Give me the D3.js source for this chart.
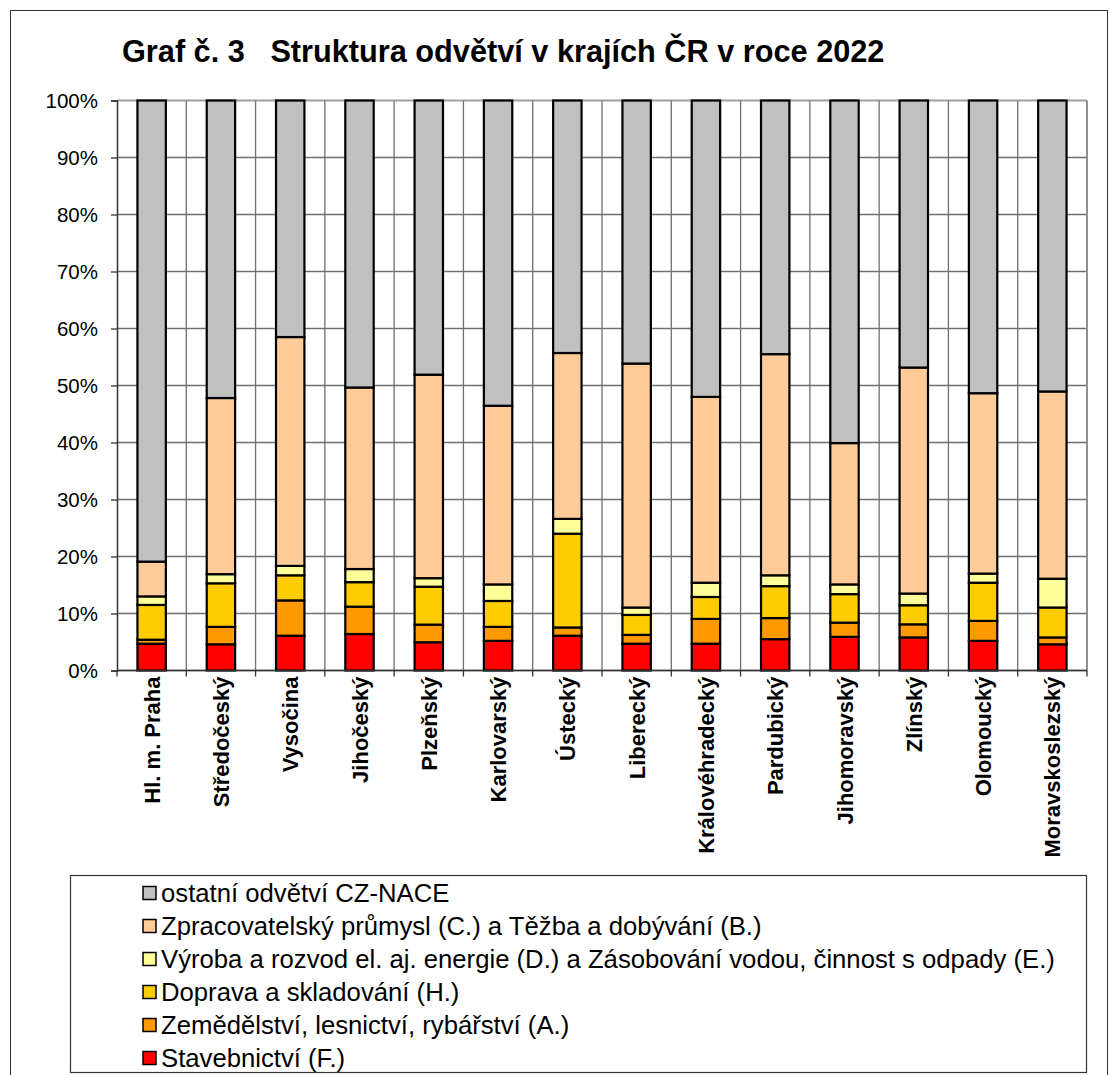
<!DOCTYPE html>
<html>
<head>
<meta charset="utf-8">
<script src="https://cdn.jsdelivr.net/npm/d3@7"></script>
<style>
  body { margin: 0; background: #fff; }
  text { font-family: 'Liberation Sans', Arial, sans-serif; }
</style>
</head>
<body>
<div id="wrapper"></div>
<script>
// 1. Data

const regions = ['Hl. m. Praha', 'Středočeský', 'Vysočina', 'Jihočeský', 'Plzeňský', 'Karlovarský', 'Ústecký',
  'Liberecký', 'Královéhradecký', 'Pardubický', 'Jihomoravský', 'Zlínský', 'Olomoucký', 'Moravskoslezský']

// shares in % (bottom to top)
const stavebnictvi = [4.7, 4.6, 6.1, 6.4, 4.95, 5.2, 6.1, 4.7, 4.7, 5.5, 5.9, 5.8, 5.2, 4.6]
const zemedelstvi = [0.7, 3.05, 6.2, 4.8, 3.1, 2.45, 1.45, 1.55, 4.35, 3.7, 2.5, 2.3, 3.5, 1.2]
const doprava = [6.1, 7.65, 4.4, 4.3, 6.65, 4.55, 16.45, 3.5, 3.85, 5.6, 5.0, 3.35, 6.7, 5.25]
const energie = [1.5, 1.6, 1.65, 2.3, 1.5, 2.9, 2.6, 1.3, 2.5, 1.9, 1.7, 2.05, 1.6, 5.05]
const prumysl = [6.1, 30.9, 40.15, 31.85, 35.7, 31.35, 29.1, 42.8, 32.6, 38.8, 24.8, 39.65, 31.65, 32.85]
const ostatni = [80.9, 52.2, 41.5, 50.35, 48.1, 53.55, 44.3, 46.15, 52.0, 44.5, 60.1, 46.85, 51.35, 51.05]

const seriesKeys = ['F', 'A', 'H', 'DE', 'CB', 'other']
const seriesNames = {
  F: 'Stavebnictví (F.)',
  A: 'Zemědělství, lesnictví, rybářství (A.)',
  H: 'Doprava a skladování (H.)',
  DE: 'Výroba a rozvod el. aj. energie (D.) a Zásobování vodou, činnost s odpady (E.)',
  CB: 'Zpracovatelský průmysl (C.) a Těžba a dobývání (B.)',
  other: 'ostatní odvětví CZ-NACE',
}
const seriesColors = {
  F: '#ff0000', A: '#ff9900', H: '#ffcc00', DE: '#ffff99', CB: '#ffcc99', other: '#c0c0c0',
}
const yTicks = [0, 10, 20, 30, 40, 50, 60, 70, 80, 90, 100]

const dataset = regions.map((r, i) => ({
  region: r,
  F: stavebnictvi[i], A: zemedelstvi[i], H: doprava[i],
  DE: energie[i], CB: prumysl[i], other: ostatni[i],
}))

// 2. Dimensions

let dimensions = {
  width: 1110,
  height: 1075,
  margin: { top: 100.5, left: 117, right: 23, bottom: 404.5 },
}
dimensions.boundedWidth = dimensions.width - dimensions.margin.left - dimensions.margin.right
dimensions.boundedHeight = dimensions.height - dimensions.margin.top - dimensions.margin.bottom

// 3. Canvas

const wrapper = d3.select('#wrapper').append('svg')
  .attr('width', dimensions.width)
  .attr('height', dimensions.height)

wrapper.append('rect')
  .attr('x', 10.5).attr('y', 10.5)
  .attr('width', 1097).attr('height', 1100)
  .attr('fill', 'none').attr('stroke', '#333').attr('stroke-width', 1)

wrapper.append('text')
  .attr('x', 122).attr('y', 62)
  .attr('font-size', 30.7).attr('font-weight', 'bold')
  .style('white-space', 'pre')
  .text('Graf č. 3   Struktura odvětví v krajích ČR v roce 2022')

const bounds = wrapper.append('g')
  .attr('transform', `translate(${dimensions.margin.left}, ${dimensions.margin.top})`)

// 4. Scales

const xScale = d3.scaleBand()
  .domain(regions)
  .range([0, dimensions.boundedWidth])

const yScale = d3.scaleLinear()
  .domain([0, 100])
  .range([dimensions.boundedHeight, 0])

const stack = d3.stack().keys(seriesKeys)
const stacked = stack(dataset)

// 5. Gridlines

bounds.append('g')
  .selectAll('line')
  .data(yTicks)
  .join('line')
  .attr('x1', 0).attr('x2', dimensions.boundedWidth)
  .attr('y1', (d) => yScale(d)).attr('y2', (d) => yScale(d))
  .attr('stroke', (d) => (d === 100 ? '#a0a0a0' : '#707070'))
  .attr('stroke-width', (d) => (d === 100 ? 2 : 1.3))

bounds.append('g')
  .selectAll('line')
  .data(regions.slice(1))
  .join('line')
  .attr('x1', (d) => xScale(d)).attr('x2', (d) => xScale(d))
  .attr('y1', 0).attr('y2', dimensions.boundedHeight)
  .attr('stroke', '#707070').attr('stroke-width', 1.3)

bounds.append('line')
  .attr('x1', dimensions.boundedWidth).attr('x2', dimensions.boundedWidth)
  .attr('y1', 0).attr('y2', dimensions.boundedHeight)
  .attr('stroke', '#909090').attr('stroke-width', 2)

// 6. Bars

const barWidth = xScale.bandwidth() * 0.41

bounds.append('g')
  .selectAll('g')
  .data(stacked)
  .join('g')
  .attr('fill', (s) => seriesColors[s.key])
  .selectAll('rect')
  .data((s) => s)
  .join('rect')
  .attr('x', (d) => xScale(d.data.region) + (xScale.bandwidth() - barWidth) / 2)
  .attr('y', (d) => yScale(d[1]))
  .attr('width', barWidth)
  .attr('height', (d) => yScale(d[0]) - yScale(d[1]))
  .attr('stroke', '#000')
  .attr('stroke-width', 2.2)

// 7. Axes

const yAxisGenerator = d3.axisLeft(yScale)
  .tickValues(yTicks)
  .tickSize(6)
  .tickPadding(13)
  .tickFormat((d) => d + '%')

const yAxis = bounds.append('g').call(yAxisGenerator)
yAxis.select('.domain').attr('stroke', '#333').attr('stroke-width', 1.5)
yAxis.selectAll('.tick line').attr('stroke', '#333').attr('stroke-width', 1.3)
yAxis.selectAll('.tick text')
  .attr('font-size', 20.5)
  .attr('font-family', "'Liberation Sans', Arial, sans-serif")
  .attr('fill', '#000')

const xAxis = bounds.append('g')
  .attr('transform', `translate(0, ${dimensions.boundedHeight})`)

xAxis.append('line')
  .attr('x1', 0).attr('x2', dimensions.boundedWidth)
  .attr('stroke', '#333').attr('stroke-width', 1.5)

xAxis.selectAll('.xtick')
  .data(regions.concat(['end']))
  .join('line')
  .attr('class', 'xtick')
  .attr('x1', (d, i) => i * xScale.step()).attr('x2', (d, i) => i * xScale.step())
  .attr('y1', 0).attr('y2', 6)
  .attr('stroke', '#333').attr('stroke-width', 1.3)

xAxis.selectAll('.xlabel')
  .data(regions)
  .join('text')
  .attr('class', 'xlabel')
  .attr('transform', (d) => `translate(${xScale(d) + xScale.bandwidth() / 2 + 8}, 6) rotate(-90)`)
  .attr('text-anchor', 'end')
  .attr('font-size', 22)
  .attr('font-weight', 'bold')
  .text((d) => d)

// 8. Legend

const legend = wrapper.append('g')

legend.append('rect')
  .attr('x', 70.5).attr('y', 875.5)
  .attr('width', 1016).attr('height', 197)
  .attr('fill', '#fff').attr('stroke', '#333').attr('stroke-width', 1.2)

const legendKeys = seriesKeys.slice().reverse()

const items = legend.selectAll('.item')
  .data(legendKeys)
  .join('g')
  .attr('class', 'item')
  .attr('transform', (d, i) => `translate(143, ${893 + i * 33})`)

items.append('rect')
  .attr('x', 0).attr('y', -6.5)
  .attr('width', 13).attr('height', 13)
  .attr('fill', (d) => seriesColors[d])
  .attr('stroke', '#000').attr('stroke-width', 1.5)

items.append('text')
  .attr('x', 18).attr('y', 9)
  .attr('font-size', 25.7)
  .text((d) => seriesNames[d])
</script>
</body>
</html>
